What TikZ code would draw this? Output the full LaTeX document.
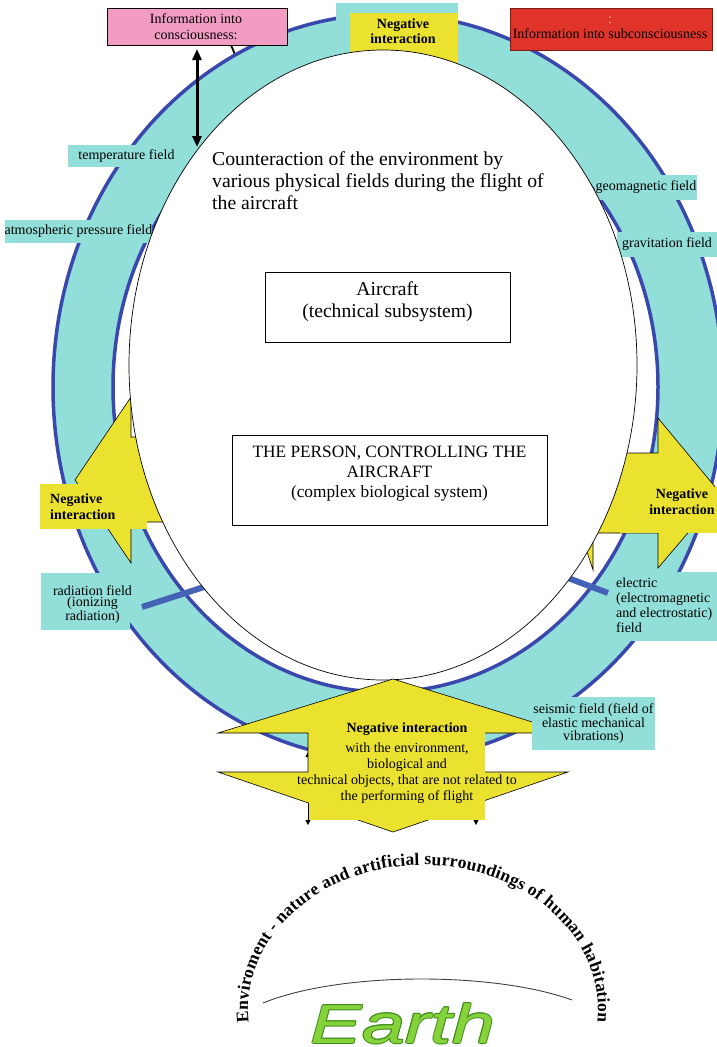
\documentclass[tikz,border=0pt]{standalone}
\usepackage{fontspec}
\setmainfont{Liberation Serif}
\newfontfamily\earthfont{Liberation Sans}
\usetikzlibrary{arrows.meta,decorations.text}

\definecolor{ringcyan}{HTML}{92DFD9}
\definecolor{ringblue}{HTML}{3A48AE}
\definecolor{linkblue}{HTML}{4563B6}
\definecolor{warnyellow}{HTML}{EBE22F}
\definecolor{infopink}{HTML}{F29CC4}
\definecolor{infored}{HTML}{E0332A}
\definecolor{infoborder}{HTML}{7A1E14}
\definecolor{earthlight}{HTML}{86D23A}
\definecolor{earthdark}{HTML}{3F8E1C}

\tikzset{
  fieldlabel/.style={fill=ringcyan, inner sep=0pt, font=\fontsize{14}{13}\selectfont, align=center},
  fieldtext/.style={inner sep=0pt, font=\fontsize{14}{11.5}\selectfont},
  warnshape/.style={fill=warnyellow, draw=black, line width=0.6pt},
  warnpad/.style={fill=warnyellow, inner sep=0pt},
  boldnote/.style={inner sep=0pt, font=\fontsize{14}{16.5}\selectfont\bfseries},
  plainbox/.style={draw=black, line width=0.7pt, fill=white, inner sep=0pt},
  plaintext/.style={inner sep=0pt, align=center},
  link/.style={draw=linkblue, line width=6pt},
  twoway/.style={line width=3pt, {Triangle[length=11pt,width=9pt]}-{Triangle[length=11pt,width=9pt]}},
  smalltwoway/.style={line width=0.8pt, {Triangle[length=5pt,width=5pt]}-{Triangle[length=5pt,width=5pt]}},
}

\begin{document}
\begin{tikzpicture}[x=1pt,y=-1pt]
\useasboundingbox (0,0) rectangle (717,1047);

% stub leading from the consciousness box towards the ring
\coordinate (stubA) at (231,45);
\coordinate (stubB) at (242,72);
\draw[line width=1.8pt] (stubA) -- (stubB);

% ring of physical fields
\path[fill=ringcyan, draw=ringblue, line width=3.5pt] (388,387) ellipse [x radius=335, y radius=373];
\path[fill=white, draw=ringblue, line width=3.5pt] (385.5,387) ellipse [x radius=272.5, y radius=305];

% tab at the top of the ring
\fill[ringcyan] (336,3) rectangle (458,95);
\fill[warnyellow] (350,13) rectangle (458,95);

% field labels on the upper part of the ring
\node[fieldlabel, minimum width=117pt, minimum height=22pt] (temp) at (126.5,156) {temperature field};
\node[fieldlabel, minimum width=147pt, minimum height=23pt] (atm) at (78.5,231.5) {atmospheric pressure field};
\node[fieldlabel, minimum width=102pt, minimum height=25pt] (geo) at (646,187.5) {geomagnetic field};
\node[fieldlabel, minimum width=100pt, minimum height=25pt] (grav) at (667,244.5) {gravitation field};

% left arrow
\path[warnshape] (260,437) -- (131,437) -- (131,397) -- (75,480) -- (131,563) -- (131,522) -- (260,522) -- cycle;
\node[warnpad, minimum width=107pt, minimum height=45pt] (lpad) at (93.5,506.5) {};
\node[boldnote, align=left, anchor=north west] (ltext) at (50,493.4) {Negative\\interaction};

% right arrow
\path[warnshape] (520,453) -- (658,453) -- (658,418) -- (721,494) -- (658,568) -- (658,533) -- (520,533) -- cycle;
\path[warnshape] (593,515) -- (593,570) -- (575,515) -- cycle;
\node[warnpad, minimum width=100pt, minimum height=46pt] (rpad) at (670,510) {};
\node[boldnote, align=center, anchor=north] (rtext) at (682,488.4) {Negative\\interaction};

% lower field labels with their links
\node[fieldlabel, minimum width=89pt, minimum height=57pt] (rad) at (85.5,601.5) {};
\node[fieldtext, align=center, anchor=north] (radtext) at (92.5,585.4) {radiation field\\(ionizing\\radiation)};
\coordinate (radOut) at (142,607);
\coordinate (radIn) at (232,578);
\draw[link] (radOut) -- (radIn);

\node[fieldlabel, minimum width=109pt, minimum height=69pt] (elec) at (662.5,606.5) {};
\node[inner sep=0pt, font=\fontsize{14}{15}\selectfont, align=left, anchor=north west] (electext) at (616,577.4) {electric\\(electromagnetic\\and electrostatic)\\field};
\coordinate (elIn) at (540,567.5);
\coordinate (elOut) at (608,593);
\draw[link] (elIn) -- (elOut);

% the aircraft and its pilot
\path[fill=white, draw=black, line width=0.7pt] (383,365) ellipse [x radius=254, y radius=315];

\node[anchor=north west, align=left, inner sep=0pt, font=\fontsize{19.7}{22}\selectfont] (head) at (212,151.5)
  {Counteraction of the environment by\\various physical fields during the flight of\\the aircraft};

\node[plainbox, minimum width=245pt, minimum height=70pt] (aircraft) at (387.5,307) {};
\node[plaintext, anchor=north, font=\fontsize{19.6}{22}\selectfont] (aircrafttext) at (387.5,281.6) {Aircraft\\(technical subsystem)};

\node[plainbox, minimum width=315pt, minimum height=90pt] (person) at (389.5,480) {};
\node[plaintext, anchor=north, font=\fontsize{17.3}{20}\selectfont] (persontext) at (389.5,445.5)
  {THE PERSON, CONTROLLING THE\\AIRCRAFT\\(complex biological system)};

% information channel to consciousness
\coordinate (dTop) at (197,49);
\coordinate (dBot) at (197,147);
\draw[twoway] (dTop) -- (dBot);

% lower double arrows behind the big callout
\coordinate (sL1) at (308,752);
\coordinate (sL2) at (308,825);
\coordinate (sR1) at (476,752);
\coordinate (sR2) at (476,825);
\draw[smalltwoway] (sL1) -- (sL2);
\draw[smalltwoway] (sR1) -- (sR2);

% big up-down callout
\path[warnshape] (393,679) -- (568,733) -- (478,733) -- (478,772) -- (568,772) -- (393,832)
  -- (218,772) -- (308,772) -- (308,733) -- (218,733) -- cycle;
\node[warnpad, minimum width=176pt, minimum height=88pt] (bpad) at (397,776) {};
\node[plaintext, anchor=north, font=\fontsize{14}{16}\selectfont] (btext) at (407,722.5)
  {\textbf{Negative interaction}\\[4pt]with the environment,\\biological and\\technical objects, that are not related to\\the performing of flight};

\node[fieldlabel, minimum width=123pt, minimum height=53pt, font=\fontsize{14}{12.5}\selectfont] (seis) at (593.5,723.5)
  {seismic field (field of\\elastic mechanical\\vibrations)};

% top boxes
\node[draw=black, fill=infopink, line width=0.8pt, minimum width=180pt, minimum height=37pt, inner sep=0pt] (infoC) at (197,26.5) {};
\node[plaintext, anchor=north, font=\fontsize{14}{16}\selectfont] (infoCtext) at (196,13.4) {Information into\\consciousness:};

\node[draw=infoborder, fill=infored, line width=0.8pt, minimum width=202pt, minimum height=42pt, inner sep=0pt] (infoS) at (611,29) {};
\node[plaintext, anchor=north, font=\fontsize{14}{15}\selectfont] (infoStext) at (610,13.7)
  {\vphantom{I}\textcolor{white!65!infored}{:}\\Information into subconsciousness};

\node[boldnote, align=center, anchor=north, font=\fontsize{14}{15}\selectfont\bfseries] (toptext) at (403,18.5) {Negative\\interaction};

% arched caption
\path[decorate, decoration={text along path, text align={fit to path},
  text={|\fontsize{17.5}{17.5}\selectfont\bfseries|Enviroment - nature and artificial surroundings of  human habitation}}]
  (248.7,1022.6) arc[start angle=175, end angle=365, x radius=175, y radius=145];

% horizon line
\coordinate (arcL) at (263,1003);
\coordinate (arcR) at (572,1000);
\draw[black!75, line width=0.9pt] (arcL) .. controls (340,971.5) and (494,971.5) .. (arcR);

% Earth lettering with a darker rim
\foreach \a in {0,45,...,315}{
  \node[inner sep=0pt, anchor=base, text=earthdark, shift={(\a:1pt)}] (earthrim\a) at (403,1043)
    {\earthfont\itshape\fontsize{55}{55}\selectfont\scalebox{1.4}[1]{Earth}};
}
\node[inner sep=0pt, anchor=base, text=earthlight] (earth) at (403,1043)
  {\earthfont\itshape\fontsize{55}{55}\selectfont\scalebox{1.4}[1]{Earth}};

\end{tikzpicture}
\end{document}
